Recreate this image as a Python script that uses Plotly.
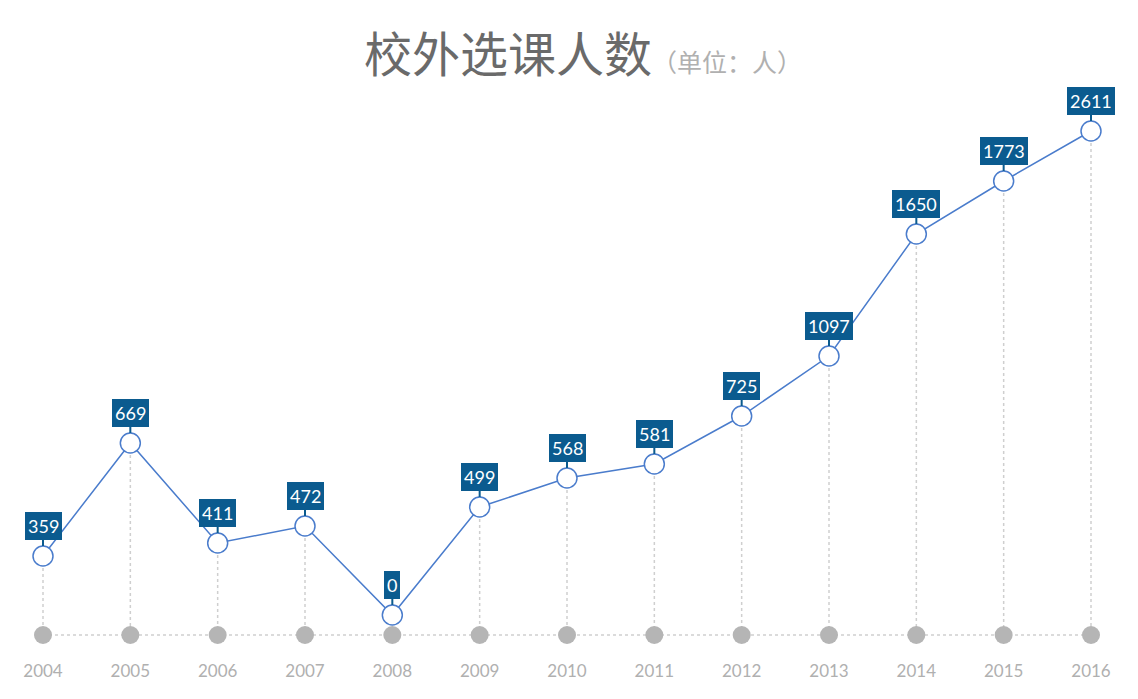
import plotly.graph_objects as go

# categories and values shown on the bubbles
years = ["2004", "2005", "2006", "2007", "2008", "2009", "2010",
         "2011", "2012", "2013", "2014", "2015", "2016"]
students = [359, 669, 411, 472, 0, 499, 568, 581, 725, 1097, 1650, 1773, 2611]
# drawn height of each point above the baseline (the source chart is not to scale)
levels = [79, 192, 92, 109, 20, 128, 157, 171, 219, 279, 401, 454, 504]

idx = list(range(len(years)))

LINE_BLUE = "#4a7ccc"
BUBBLE_BLUE = "#0b5b8f"
GREY_DOT = "#b5b5b5"
GREY_DOTTED = "#cfcfcf"

fig = go.Figure()

# dotted drop lines from each point to the baseline
drop_x, drop_y = [], []
for i, lv in zip(idx, levels):
    drop_x += [i, i, None]
    drop_y += [lv, 0, None]
fig.add_trace(go.Scatter(
    x=drop_x, y=drop_y, mode="lines",
    line=dict(color=GREY_DOTTED, width=1.5, dash="dot"),
    hoverinfo="skip", showlegend=False))

# baseline with grey dots
fig.add_trace(go.Scatter(
    x=idx, y=[0] * len(idx), mode="lines+markers",
    line=dict(color=GREY_DOTTED, width=1.5, dash="dot"),
    marker=dict(size=18, color=GREY_DOT),
    hoverinfo="skip", showlegend=False))

# main line
fig.add_trace(go.Scatter(
    x=idx, y=levels, mode="lines+markers",
    line=dict(color=LINE_BLUE, width=1.5),
    marker=dict(size=20, color="white", line=dict(color=LINE_BLUE, width=1.5)),
    customdata=students,
    hovertemplate="%{customdata}<extra></extra>",
    showlegend=False))

# value bubbles
for i, lv, v in zip(idx, levels, students):
    fig.add_annotation(
        x=i, y=lv, text=str(v),
        showarrow=True, arrowhead=0, arrowwidth=2, arrowcolor=BUBBLE_BLUE,
        ax=0, ay=-16, standoff=10, yanchor="bottom",
        bgcolor=BUBBLE_BLUE, borderpad=3, borderwidth=0,
        font=dict(family="Lato, DejaVu Sans, sans-serif", size=18, color="white"))

# title
fig.add_annotation(
    xref="paper", yref="paper", x=0.505, y=1.089,
    xanchor="center", yanchor="middle", showarrow=False,
    text="<span style='font-size:48px;color:#6a6a6a'>校外选课人数</span>"
         "<span style='font-size:25px;color:#b0b0b0'>（单位：人）</span>",
    font=dict(family="Noto Sans CJK SC, sans-serif"))

fig.update_layout(
    width=1138, height=699,
    margin=dict(l=0, r=0, t=92, b=52),
    paper_bgcolor="white", plot_bgcolor="white",
    xaxis=dict(
        range=[-35 / 87.33, 12 + 55 / 87.33],
        tickmode="array", tickvals=idx, ticktext=years,
        showgrid=False, zeroline=False, showline=False, ticks="",
        ticklabelstandoff=4,
        tickfont=dict(family="Lato, DejaVu Sans, sans-serif", size=17, color="#b0b0b0")),
    yaxis=dict(range=[-20, 535], visible=False, showgrid=False, zeroline=False),
)

fig.write_html("out.html")
